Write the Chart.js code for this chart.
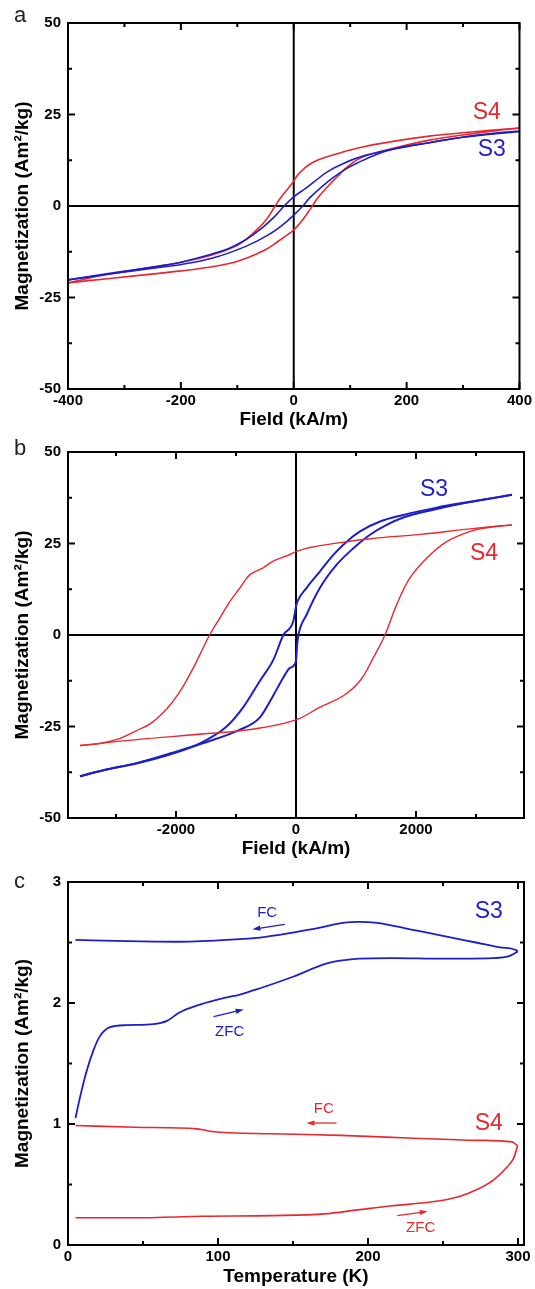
<!DOCTYPE html>
<html>
<head>
<meta charset="utf-8">
<script src="https://cdn.jsdelivr.net/npm/chart.js@4/dist/chart.umd.min.js"></script>
<style>
  html, body { margin: 0; padding: 0; background: #fff; }
  body { width: 535px; height: 1289px; position: relative; overflow: hidden; }
  .panel { position: absolute; left: 0; width: 535px; }
  .panel canvas { display: block; }
</style>
</head>
<body>
<div class="panel" style="top:0;height:436px"><canvas id="chartA"></canvas></div>
<div class="panel" style="top:436px;height:430px"><canvas id="chartB"></canvas></div>
<div class="panel" style="top:866px;height:423px"><canvas id="chartC"></canvas></div>
<script>
// ---------- Panel (a): hysteresis loops, low field (kA/m vs Am²/kg) ----------
const aS4DownH = [400, 358, 299, 240, 182, 124, 89, 60, 36, 19, 7, 0, -10, -22, -33, -43, -54, -69, -86, -104, -145, -204, -239, -326, -400];
const aS4DownM = [21.3, 20.8, 20.0, 19.1, 17.8, 16.2, 14.8, 13.5, 12.1, 10.3, 8.5, 6.8, 4.8, 2.5, 0, -2.5, -4.7, -7.0, -9.3, -11.1, -13.4, -15.5, -16.5, -18.6, -21.0];
const aS4UpH = [-400, -326, -239, -204, -145, -98, -51, -28, -8, 0, 13, 25, 33, 42, 57, 77, 95, 124, 182, 240, 299, 358, 400];
const aS4UpM = [-21.0, -19.8, -18.4, -17.8, -16.6, -15.0, -12.0, -9.7, -7.5, -6.6, -4.3, -1.8, 0, 2.1, 4.8, 8.0, 10.7, 13.5, 16.0, 18.0, 19.4, 20.6, 21.3];
const aS3DownH = [400, 384, 299, 240, 182, 124, 89, 60, 36, 19, 0, -17, -34, -57, -86, -115, -145, -204, -239, -326, -400];
const aS3DownM = [20.4, 20.3, 18.8, 17.3, 15.8, 13.7, 11.7, 9.4, 6.6, 4.6, 2.5, 0, -2.9, -6.1, -9.3, -11.6, -13.1, -15.5, -16.4, -18.4, -20.2];
const aS3UpH = [-400, -326, -239, -204, -145, -86, -45, -16, 0, 16, 30, 60, 89, 112, 150, 182, 240, 299, 400];
const aS3UpM = [-20.2, -18.6, -16.8, -16.1, -14.3, -11.1, -7.9, -4.7, -2.5, 0, 2.5, 6.6, 9.8, 11.7, 14.3, 15.7, 17.3, 18.8, 20.4];
const aXTicks = [-400, -200, 0, 200, 400];
const aXMinor = [-300, -100, 100, 300];
const aYTicks = [-50, -25, 0, 25, 50];
const aYMinor = [-37.5, -12.5, 12.5, 37.5];

// ---------- Panel (b): hysteresis loops, high field ----------
const bS4DownH = [3600, 2900, 2067, 1233, 678, 233, 0, -100, -378, -555, -767, -933, -1100, -1267, -1440, -1600, -1767, -1961, -2155, -2433, -2655, -2943, -3227, -3600];
const bS4DownM = [30.1, 29.0, 27.5, 26.3, 25.1, 23.9, 22.8, 22.0, 20.2, 18.3, 16.5, 12.9, 9.2, 4.7, 0, -5.3, -10.7, -16.1, -20.2, -24.3, -26.1, -28.3, -29.5, -30.2];
const bS4UpH = [-3600, -2658, -1522, -668, 0, 400, 789, 1067, 1289, 1483, 1678, 1900, 2178, 2511, 2900, 3178, 3600];
const bS4UpM = [-30.2, -28.6, -27.0, -25.6, -23.2, -19.7, -16.6, -12.5, -6.2, 0, 8.3, 15.6, 21.0, 25.5, 28.3, 29.3, 30.1];
const bS3DownH = [3600, 2900, 2344, 1789, 1400, 1067, 844, 622, 400, 178, 30, 0, -44, -211, -378, -600, -878, -1156, -1600, -2090, -2658, -3227, -3600];
const bS3DownM = [38.3, 36.4, 34.8, 32.8, 31.0, 28.3, 25.5, 21.9, 17.4, 12.9, 9.4, 7.8, 3.8, 0, -6.8, -12.5, -19.7, -25.0, -29.6, -32.6, -35.1, -37.0, -38.6];
const bS3UpH = [-3600, -3227, -2658, -2090, -1500, -953, -600, -378, -211, -100, 0, 20, 40, 178, 400, 678, 956, 1233, 1511, 1789, 2344, 2900, 3600];
const bS3UpM = [-38.6, -37.0, -35.0, -32.3, -29.3, -26.0, -22.5, -16.5, -11.6, -9.0, -7.1, -2.5, 0, 5.6, 12.9, 19.2, 23.7, 27.4, 30.1, 32.1, 34.4, 36.3, 38.3];
const bXTicks = [-2000, 0, 2000];
const bXMinor = [-3000, -1000, 1000, 3000];
const bYTicks = [-50, -25, 0, 25, 50];
const bYMinor = [-37.5, -12.5, 12.5, 37.5];

// ---------- Panel (c): ZFC / FC magnetization vs temperature ----------
const cS3ZfcT = [5, 8, 12, 17, 21, 28, 39, 57, 66, 74, 88, 106, 114, 128, 150, 172, 183, 194, 217, 250, 283, 294, 299.8];
const cS3ZfcM = [1.05, 1.22, 1.42, 1.61, 1.72, 1.80, 1.817, 1.825, 1.852, 1.92, 1.987, 2.047, 2.068, 2.122, 2.217, 2.325, 2.352, 2.366, 2.371, 2.366, 2.371, 2.387, 2.425];
const cS3FcT = [299.8, 299, 288, 272, 250, 228, 206, 194, 183, 168, 150, 128, 106, 72, 39, 5];
const cS3FcM = [2.425, 2.435, 2.46, 2.50, 2.555, 2.609, 2.663, 2.671, 2.663, 2.622, 2.582, 2.541, 2.522, 2.506, 2.511, 2.522];
const cS4ZfcT = [5, 45, 90, 136, 171, 193, 216, 239, 250, 262, 273, 284, 293, 297, 299.8];
const cS4ZfcM = [0.225, 0.225, 0.238, 0.243, 0.257, 0.29, 0.324, 0.351, 0.37, 0.405, 0.46, 0.541, 0.649, 0.716, 0.82];
const cS4FcT = [299.8, 296, 273, 227, 182, 136, 96, 90, 86, 45, 5];
const cS4FcM = [0.82, 0.852, 0.865, 0.884, 0.906, 0.919, 0.938, 0.952, 0.96, 0.973, 0.987];
const cXTicks = [0, 100, 200, 300];
const cXMinor = [50, 150, 250];
const cYTicks = [0, 1, 2, 3];
const cYMinor = [0.5, 1.5, 2.5];

const RED = '#e8282e';
const BLUE = '#1e1ec8';
const FONT = '"Liberation Sans", Arial, Helvetica, sans-serif';

const pts = (xs, ys) => xs.map((v, i) => ({ x: v, y: ys[i] }));

// smooth: 'monotone' follows sharp steps without overshoot, a number gives a cardinal spline
function line(xs, ys, color, width, smooth) {
  const ds = {
    data: pts(xs, ys), borderColor: color, borderWidth: width,
    pointRadius: 0, showLine: true, fill: false
  };
  if (smooth === 'monotone') ds.cubicInterpolationMode = 'monotone';
  else ds.tension = smooth;
  return ds;
}

// Frame, inward ticks, zero axes, in-plot labels and arrows
const frameTicks = {
  id: 'frameTicks',
  beforeDatasetsDraw(chart, args, o) {
    if (!o.zeroLines) return;
    const { ctx, chartArea: a, scales: { x, y } } = chart;
    const x0 = x.getPixelForValue(0), y0 = y.getPixelForValue(0);
    ctx.save();
    ctx.strokeStyle = '#000'; ctx.lineWidth = 2;
    ctx.beginPath();
    ctx.moveTo(x0, a.top); ctx.lineTo(x0, a.bottom);
    ctx.moveTo(a.left, y0); ctx.lineTo(a.right, y0);
    ctx.stroke();
    ctx.restore();
  },
  afterDatasetsDraw(chart, args, o) {
    const { ctx, chartArea: a, scales: { x, y } } = chart;
    ctx.save();
    ctx.strokeStyle = '#000'; ctx.lineWidth = 2;
    ctx.strokeRect(a.left, a.top, a.right - a.left, a.bottom - a.top);
    const tick = (vals, len) => {
      ctx.beginPath();
      vals.forEach(v => {
        const px = x.getPixelForValue(v);
        if (px < a.left - 0.5 || px > a.right + 0.5) return;
        ctx.moveTo(px, a.bottom); ctx.lineTo(px, a.bottom - len);
        ctx.moveTo(px, a.top); ctx.lineTo(px, a.top + len);
      });
      ctx.stroke();
    };
    const ytick = (vals, len) => {
      ctx.beginPath();
      vals.forEach(v => {
        const py = y.getPixelForValue(v);
        ctx.moveTo(a.left, py); ctx.lineTo(a.left + len, py);
        ctx.moveTo(a.right, py); ctx.lineTo(a.right - len, py);
      });
      ctx.stroke();
    };
    tick(o.xMajor, 7); tick(o.xMinor, 4);
    ytick(o.yMajor, 7); ytick(o.yMinor, 4);

    (o.arrows || []).forEach(ar => {
      const x1 = x.getPixelForValue(ar.x1), y1 = y.getPixelForValue(ar.y1);
      const x2 = x.getPixelForValue(ar.x2), y2 = y.getPixelForValue(ar.y2);
      const ang = Math.atan2(y2 - y1, x2 - x1);
      ctx.strokeStyle = ar.color; ctx.fillStyle = ar.color; ctx.lineWidth = 1.3;
      ctx.beginPath(); ctx.moveTo(x1, y1);
      ctx.lineTo(x2 - 5 * Math.cos(ang), y2 - 5 * Math.sin(ang)); ctx.stroke();
      ctx.beginPath();
      ctx.moveTo(x2, y2);
      ctx.lineTo(x2 - 8 * Math.cos(ang) + 2.6 * Math.sin(ang), y2 - 8 * Math.sin(ang) - 2.6 * Math.cos(ang));
      ctx.lineTo(x2 - 8 * Math.cos(ang) - 2.6 * Math.sin(ang), y2 - 8 * Math.sin(ang) + 2.6 * Math.cos(ang));
      ctx.closePath(); ctx.fill();
    });

    ctx.textAlign = 'center'; ctx.textBaseline = 'middle';
    (o.labels || []).forEach(l => {
      ctx.fillStyle = l.color;
      ctx.font = l.size + 'px ' + FONT;
      ctx.fillText(l.text, x.getPixelForValue(l.x), y.getPixelForValue(l.y));
    });

    if (o.tag) {
      ctx.fillStyle = '#222';
      ctx.font = '22px ' + FONT;
      ctx.textAlign = 'left'; ctx.textBaseline = 'alphabetic';
      ctx.fillText(o.tag.text, o.tag.px, o.tag.py);
    }
    ctx.restore();
  }
};

function makeChart(id, cfg) {
  const fixTicks = vals => scale => { scale.ticks = vals.map(v => ({ value: v })); };
  const plain = v => String(v);
  return new Chart(document.getElementById(id), {
    type: 'scatter',
    data: { datasets: cfg.datasets },
    plugins: [frameTicks],
    options: {
      responsive: true, maintainAspectRatio: false, animation: false, events: [],
      layout: { padding: { top: cfg.padTop, right: 11, left: 0, bottom: 0 } },
      plugins: {
        legend: { display: false }, tooltip: { enabled: false },
        frameTicks: {
          zeroLines: cfg.zeroLines, xMajor: cfg.xTicks, xMinor: cfg.xMinor,
          yMajor: cfg.yTicks, yMinor: cfg.yMinor, labels: cfg.labels,
          arrows: cfg.arrows, tag: cfg.tag
        }
      },
      scales: {
        x: {
          type: 'linear', min: cfg.xMin, max: cfg.xMax,
          afterBuildTicks: fixTicks(cfg.xTicks),
          afterFit: s => { s.height = cfg.xHeight; },
          grid: { display: false, drawTicks: false }, border: { display: false },
          ticks: { padding: 3, color: '#000', maxRotation: 0, callback: plain,
                   font: { family: FONT, size: 15, weight: 'bold' } },
          title: { display: true, text: cfg.xTitle, color: '#000', padding: { top: 0, bottom: cfg.titlePad },
                   font: { family: FONT, size: 19, weight: 'bold' } }
        },
        y: {
          type: 'linear', min: cfg.yMin, max: cfg.yMax,
          afterBuildTicks: fixTicks(cfg.yTicks),
          afterFit: s => { s.width = 68; },
          grid: { display: false, drawTicks: false }, border: { display: false },
          ticks: { padding: 7, color: '#000', callback: plain,
                   font: { family: FONT, size: 15, weight: 'bold' } },
          title: { display: true, text: 'Magnetization (Am²/kg)', color: '#000', padding: { top: 11.5, bottom: 0 },
                   font: { family: FONT, size: 19, weight: 'bold' } }
        }
      }
    }
  });
}

makeChart('chartA', {
  datasets: [
    line(aS3DownH, aS3DownM, BLUE, 1.6, 0.4), line(aS3UpH, aS3UpM, BLUE, 1.6, 0.4),
    line(aS4DownH, aS4DownM, RED, 1.6, 0.4), line(aS4UpH, aS4UpM, RED, 1.6, 0.4)
  ],
  padTop: 23, xHeight: 47, titlePad: 4.6, zeroLines: true,
  xMin: -400, xMax: 400, yMin: -50, yMax: 50,
  xTicks: aXTicks, xMinor: aXMinor, yTicks: aYTicks, yMinor: aYMinor,
  xTitle: 'Field (kA/m)',
  labels: [
    { text: 'S4', x: 342, y: 25.4, color: RED, size: 23 },
    { text: 'S3', x: 351, y: 15.3, color: BLUE, size: 23 }
  ],
  tag: { text: 'a', px: 14, py: 21.5 }
});

makeChart('chartB', {
  datasets: [
    line(bS4DownH, bS4DownM, RED, 1.4, 0.4), line(bS4UpH, bS4UpM, RED, 1.4, 0.4),
    line(bS3DownH, bS3DownM, BLUE, 2, 'monotone'), line(bS3UpH, bS3UpM, BLUE, 2, 'monotone')
  ],
  padTop: 14, xHeight: 48, titlePad: 5.6, zeroLines: true,
  xMin: -3800, xMax: 3800, yMin: -50, yMax: 50,
  xTicks: bXTicks, xMinor: bXMinor, yTicks: bYTicks, yMinor: bYMinor,
  xTitle: 'Field (kA/m)',
  labels: [
    { text: 'S3', x: 2300, y: 39.7, color: BLUE, size: 23 },
    { text: 'S4', x: 3133, y: 22.3, color: RED, size: 23 }
  ],
  tag: { text: 'b', px: 14, py: 19 }
});

makeChart('chartC', {
  datasets: [
    line(cS3ZfcT, cS3ZfcM, BLUE, 1.8, 'monotone'), line(cS3FcT, cS3FcM, BLUE, 1.8, 'monotone'),
    line(cS4ZfcT, cS4ZfcM, RED, 1.6, 'monotone'), line(cS4FcT, cS4FcM, RED, 1.6, 'monotone')
  ],
  padTop: 9, xHeight: 44, titlePad: 0.6, zeroLines: false,
  xMin: 0, xMax: 304, yMin: 0, yMax: 3,
  xTicks: cXTicks, xMinor: cXMinor, yTicks: cYTicks, yMinor: cYMinor,
  xTitle: 'Temperature (K)',
  labels: [
    { text: 'S3', x: 280.5, y: 2.757, color: BLUE, size: 23 },
    { text: 'S4', x: 280.5, y: 1.006, color: RED, size: 23 },
    { text: 'FC', x: 132.8, y: 2.749, color: BLUE, size: 15 },
    { text: 'ZFC', x: 107.8, y: 1.764, color: BLUE, size: 15 },
    { text: 'FC', x: 170.5, y: 1.127, color: RED, size: 15 },
    { text: 'ZFC', x: 235.1, y: 0.138, color: RED, size: 15 }
  ],
  arrows: [
    { x1: 144.5, y1: 2.650, x2: 122.9, y2: 2.609, color: BLUE },
    { x1: 97.1, y1: 1.887, x2: 117.1, y2: 1.946, color: BLUE },
    { x1: 179, y1: 1.008, x2: 159, y2: 1.008, color: RED },
    { x1: 219.5, y1: 0.243, x2: 239.9, y2: 0.278, color: RED }
  ],
  tag: { text: 'c', px: 14, py: 22.3 }
});
</script>
</body>
</html>
